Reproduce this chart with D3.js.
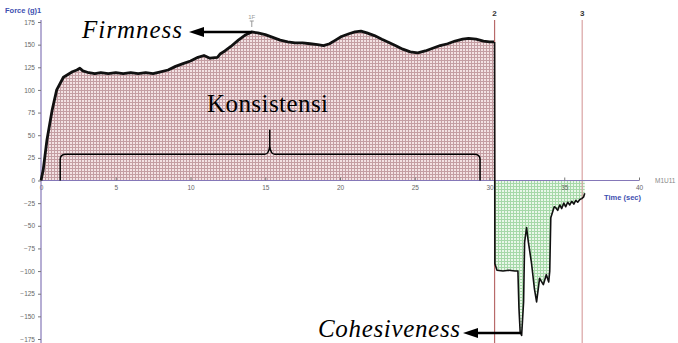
<!DOCTYPE html>
<html lang="en">

<head>
  <meta charset="utf-8">
  <script src="https://d3js.org/d3.v7.min.js"></script>
  <style>
    body {
      margin: 0;
      background: #fff;
    }

    text {
      font-family: Arial, "Liberation Sans", sans-serif;
    }

    .note {
      font-family: "Liberation Serif", "Times New Roman", serif;
      fill: #000;
    }
  </style>
</head>

<body>
  <svg width="678" height="343"></svg>
  <script>
    // compression phase (time s, force g)
    const pressTime = [0, 0.15, 0.4, 0.75, 1.05, 1.5, 2.1, 2.4, 2.6, 2.8, 3.2, 3.6, 4.0, 4.5, 5.0, 5.5, 6.0, 6.5,
      7.0, 7.5, 8.0, 8.5, 9.0, 9.5, 10.0, 10.5, 10.9, 11.3, 11.8, 12.0, 12.3, 12.7, 13.2, 13.7, 14.1, 14.5, 15.0,
      15.5, 16.0, 16.5, 17.0, 17.5, 18.0, 18.5, 18.9, 19.3, 19.7, 20.1, 20.6, 21.0, 21.4, 21.8, 22.3, 22.8, 23.2,
      23.7, 24.2, 24.7, 25.2, 25.7, 26.2, 26.7, 27.2, 27.7, 28.2, 28.6, 29.1, 29.6, 30.0, 30.3];
    const pressForce = [0, 12, 45, 78, 100, 114, 120, 122, 124, 121, 119, 118, 119, 118, 119, 118, 119, 118,
      119, 118, 120, 122, 126, 129, 132, 136, 138, 135, 136, 140, 143, 148, 155, 161, 164, 163, 161,
      158, 155, 153, 152, 152, 151, 150, 149, 151, 155, 159, 162, 164, 165, 163, 160, 156, 153,
      149, 145, 142, 141, 143, 146, 149, 151, 154, 156, 157, 156, 154, 153, 153];

    // withdrawal phase
    const pullTime = [30.34, 30.36, 30.5, 30.9, 31.3, 31.7, 31.9, 31.97, 32.05, 32.15, 32.28, 32.35, 32.48, 32.6,
      32.8, 33.0, 33.15, 33.35, 33.6, 33.8, 33.96, 34.03, 34.1, 34.33, 34.43, 34.56, 34.7, 34.83, 34.97, 35.1,
      35.23, 35.37, 35.5, 35.64, 35.77, 35.9, 36.04, 36.17, 36.3, 36.37];
    const pullForce = [153, -92, -99, -100, -99, -100, -100, -141, -167, -171, -134, -68, -52, -68,
      -90, -119, -134, -108, -115, -104, -112, -100, -41, -29, -30, -33, -27, -31, -25, -29,
      -24, -27, -23, -26, -22, -24, -21, -20, -18, -14];

    const yTicks = d3.range(-175, 176, 25);
    const xTicks = [0, 5, 10, 15, 20, 25, 30, 35, 40];
    const markers = [{ label: "2", t: 30.34, color: "#b86a6a" }, { label: "3", t: 36.2, color: "#d9a3a3" }];

    const svg = d3.select("svg");
    const x = d3.scaleLinear().domain([0, 40]).range([41, 639]);
    const y = d3.scaleLinear().domain([-175, 175]).range([339, 22]);
    const axisColor = "#8578b8";

    const press = pressTime.map((t, i) => [t, pressForce[i]]);
    const pull = pullTime.map((t, i) => [t, pullForce[i]]);

    // fill patterns
    const defs = svg.append("defs");
    function grid(id, bg, ln) {
      const p = defs.append("pattern").attr("id", id).attr("patternUnits", "userSpaceOnUse")
        .attr("width", 3).attr("height", 3);
      p.append("rect").attr("width", 3).attr("height", 3).attr("fill", bg);
      p.append("rect").attr("width", 1).attr("height", 3).attr("fill", ln);
      p.append("rect").attr("width", 3).attr("height", 1).attr("fill", ln);
    }
    grid("pink", "#f3e2e4", "#c49ea3");
    grid("green", "#e9f7e9", "#a6d8a8");

    const area = d3.area().x(d => x(d[0])).y0(y(0)).y1(d => y(d[1]));
    const line = d3.line().x(d => x(d[0])).y(d => y(d[1]));

    svg.append("path").datum(press).attr("d", area).attr("fill", "url(#pink)");
    svg.append("path").datum(pull.slice(1)).attr("d", area).attr("fill", "url(#green)");

    // marker lines
    markers.forEach(m => {
      svg.append("line").attr("x1", x(m.t)).attr("x2", x(m.t)).attr("y1", 20).attr("y2", 343)
        .attr("stroke", m.color).attr("stroke-width", 1.2);
      svg.append("text").attr("x", x(m.t)).attr("y", 16).attr("text-anchor", "middle")
        .attr("font-size", 8).attr("font-weight", "bold").attr("fill", "#333").text(m.label);
    });

    // axes
    const xAxis = svg.append("g").attr("transform", `translate(0,${y(0)})`)
      .call(d3.axisBottom(x).tickValues(xTicks).tickSize(3).tickSizeOuter(0));
    const yAxis = svg.append("g").attr("transform", `translate(${x(0)},0)`)
      .call(d3.axisLeft(y).tickValues(yTicks).tickSize(3).tickSizeOuter(0));
    [xAxis, yAxis].forEach(g => {
      g.select(".domain").attr("stroke", axisColor).attr("stroke-width", 1.2);
      g.selectAll(".tick line").attr("stroke", "#777");
      g.selectAll(".tick text").attr("fill", "#666").attr("font-size", 6.5);
    });
    xAxis.select(".domain").attr("d", `M${x(0)},0H${x(40)}`);
    yAxis.select(".domain").attr("d", `M0,20V343`);
    xAxis.selectAll(".tick line").attr("y2", -3);
    xAxis.selectAll(".tick text").attr("y", 5);

    svg.append("text").attr("x", 5).attr("y", 13).attr("font-size", 7.5).attr("font-weight", "bold")
      .attr("fill", "#3d4fb0").text("Force (g)1");
    svg.append("text").attr("x", 641).attr("y", 200).attr("text-anchor", "end").attr("font-size", 7.5)
      .attr("font-weight", "bold").attr("fill", "#3d4fb0").text("Time (sec)");
    svg.append("text").attr("x", 655).attr("y", 183).attr("font-size", 6.5).attr("fill", "#888").text("M1U11");

    // curves
    svg.append("path").datum(press).attr("d", line).attr("fill", "none")
      .attr("stroke", "#111").attr("stroke-width", 2.8).attr("stroke-linejoin", "round");
    svg.append("path").datum(pull).attr("d", line).attr("fill", "none")
      .attr("stroke", "#111").attr("stroke-width", 1.6).attr("stroke-linejoin", "round");

    // peak marker
    svg.append("text").attr("x", x(14.1)).attr("y", 19).attr("text-anchor", "middle")
      .attr("font-size", 6).attr("fill", "#999").text("1F");
    svg.append("path").attr("d", `M${x(14.1) - 2},21H${x(14.1) + 2}M${x(14.1)},21V27`)
      .attr("stroke", "#999").attr("fill", "none");

    // annotations
    const arrow = (x1, x2, yy) => {
      svg.append("line").attr("x1", x1 + 12).attr("x2", x2).attr("y1", yy).attr("y2", yy)
        .attr("stroke", "#000").attr("stroke-width", 2.5);
      svg.append("path").attr("d", `M${x1},${yy}L${x1 + 15},${yy - 5}L${x1 + 15},${yy + 5}Z`).attr("fill", "#000");
    };
    svg.append("text").attr("class", "note").attr("x", 82).attr("y", 38).attr("font-size", 25)
      .attr("font-style", "italic").attr("textLength", 100).text("Firmness");
    arrow(189, x(14.1), 32);

    svg.append("text").attr("class", "note").attr("x", 207).attr("y", 112).attr("font-size", 25)
      .attr("textLength", 121).text("Konsistensi");

    svg.append("text").attr("class", "note").attr("x", 318).attr("y", 337).attr("font-size", 25)
      .attr("font-style", "italic").attr("textLength", 142).text("Cohesiveness");
    arrow(463, x(32.15), 333);

    // brace under Konsistensi
    const bx0 = x(1.35), bx1 = x(29.3), bm = x(15.3), by = y(29), b0 = y(0), bt = y(56);
    svg.append("path")
      .attr("d", `M${bx0 - 1},${b0}V${by + 5}Q${bx0 - 1},${by} ${bx0 + 5},${by}H${bm - 5}` +
        `Q${bm - 1},${by} ${bm},${by - 8}V${bt}M${bm},${by - 8}Q${bm + 1},${by} ${bm + 5},${by}H${bx1 - 5}` +
        `Q${bx1 + 1},${by} ${bx1 + 1},${by + 5}V${b0}`)
      .attr("fill", "none").attr("stroke", "#000").attr("stroke-width", 1.5);
  </script>
</body>

</html>
